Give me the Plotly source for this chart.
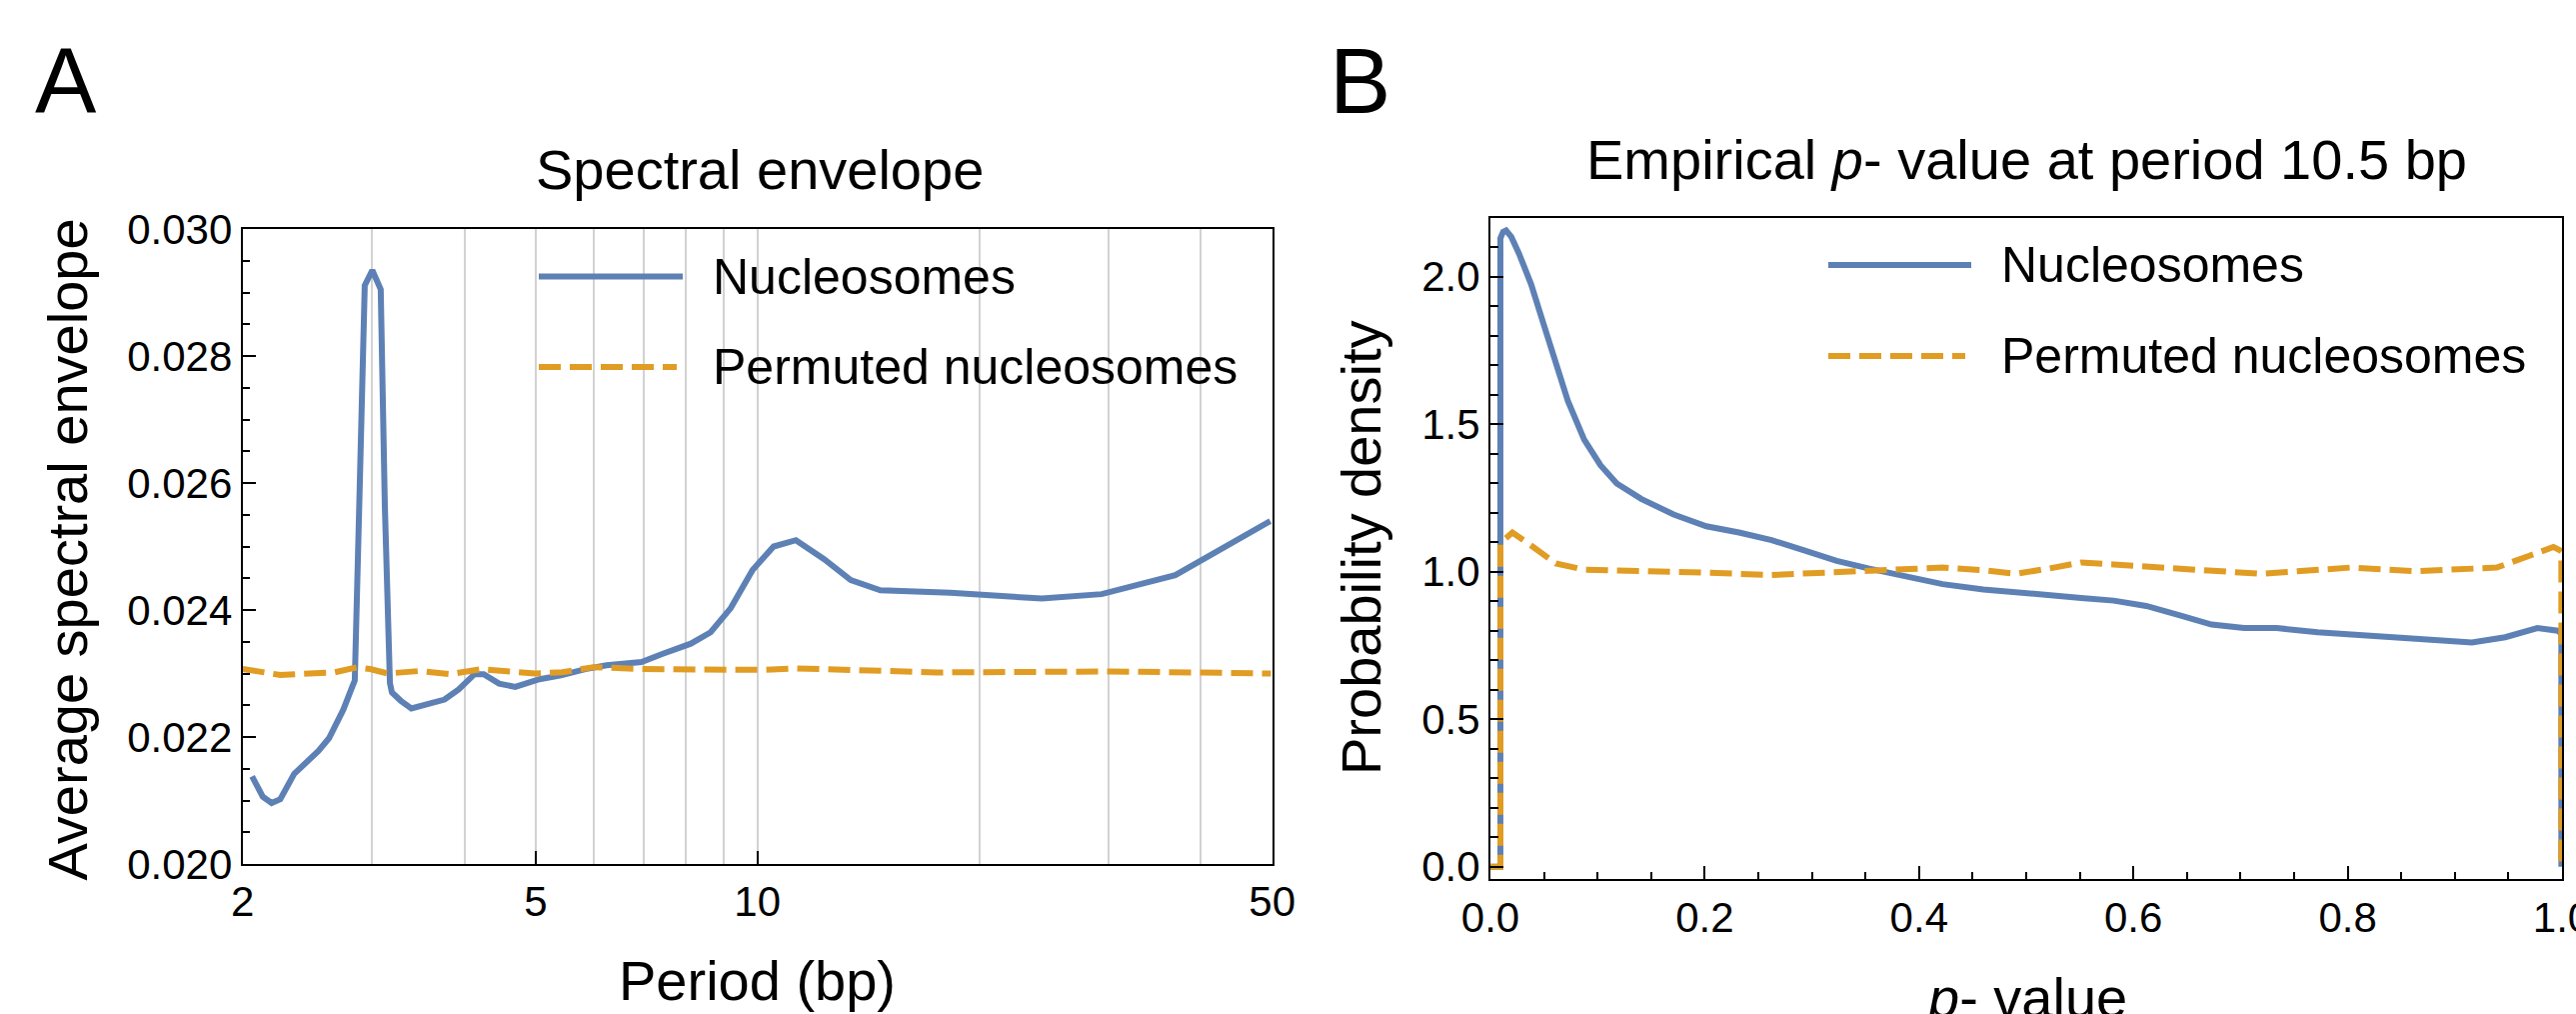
import numpy as np
import plotly.graph_objects as go

W, H = 2577, 1014


def px(x):
    return x / W


def py(y):
    return 1 - y / H


# ---------------- Panel A: spectral envelope ----------------
period_nuc = [2.06, 2.13, 2.19, 2.25, 2.35, 2.45, 2.535, 2.62, 2.74, 2.82, 2.84,
              2.88, 2.93, 3.00, 3.08, 3.12, 3.17, 3.19, 3.28, 3.39, 3.53, 3.76,
              3.93, 4.13, 4.25, 4.46, 4.69, 5.06, 5.41, 5.84, 6.24, 6.96, 7.44,
              8.12, 8.64, 9.20, 9.85, 10.52, 11.28, 12.32, 13.39, 14.69, 18.29,
              20.86, 24.33, 29.33, 36.93, 49.7]
env_nuc = [0.02138, 0.02106, 0.02096, 0.02102, 0.02142, 0.02162, 0.02178, 0.02198,
           0.02243, 0.02280, 0.02289, 0.02564, 0.02911, 0.02935, 0.02905, 0.02564,
           0.02285, 0.02270, 0.02257, 0.02245, 0.02251, 0.02259, 0.02275, 0.02299,
           0.02299, 0.02284, 0.02279, 0.02291, 0.02297, 0.02307, 0.02313, 0.02318,
           0.02331, 0.02347, 0.02365, 0.02403, 0.02463, 0.02500, 0.02510, 0.02480,
           0.02447, 0.02431, 0.02427, 0.02423, 0.02418, 0.02425, 0.02455, 0.02540]

period_perm = [2.0, 2.046, 2.10, 2.25, 2.49, 2.67, 2.86, 2.98, 3.15, 3.48, 3.83,
               4.22, 4.72, 4.99, 5.43, 5.99, 6.97, 8.34, 10.1, 11.27, 14.0, 17.5,
               24.2, 30.1, 49.8]
env_perm = [0.02307, 0.023057, 0.023033, 0.022976, 0.023016, 0.02302, 0.023098,
            0.02307, 0.02300, 0.02304, 0.02299, 0.02307, 0.02302, 0.02300, 0.02302,
            0.02310, 0.02307, 0.023057, 0.023057, 0.02308, 0.023049, 0.023017,
            0.023025, 0.023033, 0.02300]

xticks_a = [2, 5, 10, 50]
xgrid_minor_a = [3, 4, 6, 7, 8, 9, 20, 30, 40]

# ---------------- Panel B: empirical p-value density ----------------
p_nuc = [0.0, 0.0093, 0.0093, 0.0118, 0.0146, 0.0195, 0.0266, 0.038, 0.0494, 0.0608,
         0.0722, 0.0875, 0.1027, 0.1179, 0.1407, 0.171, 0.2015, 0.232, 0.2624, 0.2928,
         0.3232, 0.3536, 0.384, 0.422, 0.46, 0.5057, 0.5513, 0.5817, 0.612, 0.6426,
         0.673, 0.7034, 0.7338, 0.772, 0.81, 0.848, 0.886, 0.916, 0.947, 0.977, 0.996,
         0.9994, 0.9994]
dens_nuc = [0.0, 0.0, 2.13, 2.152, 2.157, 2.135, 2.079, 1.974, 1.842, 1.711,
            1.58, 1.448, 1.361, 1.299, 1.247, 1.194, 1.154, 1.133, 1.107, 1.072,
            1.037, 1.0105, 0.989, 0.958, 0.94, 0.923, 0.911, 0.902, 0.884, 0.853,
            0.821, 0.809, 0.809, 0.795, 0.786, 0.779, 0.765, 0.76, 0.778, 0.809, 0.80,
            0.79, 0.0]

p_perm = [0.0, 0.0093, 0.0093, 0.0205, 0.038, 0.061, 0.0875, 0.1407, 0.2015, 0.2624,
          0.308, 0.369, 0.422, 0.46, 0.4905, 0.521, 0.5513, 0.5817, 0.6198, 0.6578,
          0.7186, 0.7643, 0.8023, 0.863, 0.939, 0.9696, 0.992, 0.9994, 0.9994]
dens_perm = [0.0, 0.0, 1.098, 1.133, 1.089, 1.028, 1.007, 1.0035, 0.9965, 0.989,
             0.9965, 1.0035, 1.014, 1.005, 0.993, 1.0105, 1.0315, 1.0245, 1.014, 1.007,
             0.993, 1.007, 1.014, 1.0017, 1.014, 1.054, 1.084, 1.07, 0.0]

xticks_b = [0.0, 0.2, 0.4, 0.6, 0.8, 1.0]
yticks_b = [0.0, 0.5, 1.0, 1.5, 2.0]

series_names = ["Nucleosomes", "Permuted nucleosomes"]

BLUE = "#5E81B5"
ORANGE = "#E19C24"
GRID = "#d2d2d2"
FONT = "Liberation Sans, Arial, Helvetica, sans-serif"
DASH = "22px,9px"
LW = 6

fig = go.Figure()
fig.add_trace(go.Scatter(x=period_nuc, y=env_nuc, mode="lines", name=series_names[0],
                         line=dict(color=BLUE, width=LW), xaxis="x", yaxis="y",
                         showlegend=False))
fig.add_trace(go.Scatter(x=period_perm, y=env_perm, mode="lines", name=series_names[1],
                         line=dict(color=ORANGE, width=LW, dash=DASH), xaxis="x", yaxis="y",
                         showlegend=False))
fig.add_trace(go.Scatter(x=p_nuc, y=dens_nuc, mode="lines", name=series_names[0],
                         line=dict(color=BLUE, width=LW),
                         xaxis="x2", yaxis="y2", showlegend=False))
fig.add_trace(go.Scatter(x=p_perm, y=dens_perm, mode="lines", name=series_names[1],
                         line=dict(color=ORANGE, width=LW, dash=DASH),
                         xaxis="x2", yaxis="y2", showlegend=False))

tickfont = dict(family=FONT, size=42, color="black")
frame = dict(showline=True, linecolor="black", linewidth=2, mirror=True, zeroline=False,
             ticks="inside", ticklen=13, tickwidth=2, tickcolor="black", tickfont=tickfont,
             automargin=False, ticklabeloverflow="allow")

fig.update_layout(
    width=W, height=H, margin=dict(l=0, r=0, t=0, b=0, autoexpand=False),
    paper_bgcolor="white", plot_bgcolor="white", showlegend=False,
    font=dict(family=FONT, color="black"),
    xaxis=dict(type="log", domain=[px(242.7), px(1272.7)],
               range=[np.log10(2), np.log10(50)], anchor="y",
               tickmode="array", tickvals=xticks_a, ticktext=[str(v) for v in xticks_a],
               showgrid=True, gridcolor=GRID, gridwidth=1.6,
               minor=dict(tickmode="array", tickvals=xgrid_minor_a, ticks="",
                          showgrid=True, gridcolor=GRID, gridwidth=1.6),
               **frame),
    yaxis=dict(domain=[py(864), py(229)], range=[0.020, 0.030], anchor="x",
               tick0=0.020, dtick=0.002, tickformat=".3f", showgrid=False,
               minor=dict(dtick=0.0005, ticks="inside", ticklen=7.5, tickwidth=2,
                          tickcolor="black", showgrid=False),
               **frame),
    xaxis2=dict(domain=[px(1491), px(2563)], range=[0, 1], anchor="y2",
                tickmode="array", tickvals=xticks_b, ticktext=["%.1f" % v for v in xticks_b],
                showgrid=False,
                minor=dict(dtick=0.05, tick0=0, ticks="inside", ticklen=7.5, tickwidth=2,
                           tickcolor="black", showgrid=False),
                **frame),
    yaxis2=dict(domain=[py(879.3), py(217.7)], range=[-0.0426, 2.2], anchor="x2",
                tickmode="array", tickvals=yticks_b, ticktext=["%.1f" % v for v in yticks_b],
                showgrid=False,
                minor=dict(dtick=0.1, tick0=0, ticks="inside", ticklen=7.5, tickwidth=2,
                           tickcolor="black", showgrid=False),
                **frame),
)


def label(text, x, y, size, xanchor="center", angle=0):
    fig.add_annotation(text=text, x=px(x), y=py(y), xref="paper", yref="paper",
                       xanchor=xanchor, yanchor="middle", showarrow=False,
                       textangle=angle, font=dict(family=FONT, size=size, color="black"))


# panel letters
label("A", 33, 81, 92, xanchor="left")
label("B", 1328, 81, 92, xanchor="left")
# titles
label("Spectral envelope", 760, 170, 56)
label("Empirical <i>p</i>- value at period 10.5 bp", 2027, 159, 56)
# axis titles
label("Period (bp)", 757, 980, 56)
label("Average spectral envelope", 66.5, 550, 56, angle=-90)
label("<i>p</i>- value", 2027, 997, 56)
label("Probability density", 1361, 548, 56, angle=-90)

# legends (drawn manually to match long legend keys)
legend_specs = [
    # (x0, x1, y_blue, y_orange, text_x)
    (539, 683, 276.5, 367, 711),
    (1829, 1972, 265, 356, 2000),
]
for x0, x1, yb, yo, tx in legend_specs:
    fig.add_shape(type="line", xref="paper", yref="paper", x0=px(x0), x1=px(x1),
                  y0=py(yb), y1=py(yb), line=dict(color=BLUE, width=LW))
    fig.add_shape(type="line", xref="paper", yref="paper", x0=px(x0), x1=px(x1 - 6),
                  y0=py(yo), y1=py(yo), line=dict(color=ORANGE, width=LW, dash=DASH))
    label(series_names[0], tx, yb, 50, xanchor="left")
    label(series_names[1], tx, yo, 50, xanchor="left")

fig.write_html("out.html", config={"displayModeBar": False})

with open("out.html", "r", encoding="utf-8") as f:
    html = f.read()
html = html.replace("<head>", "<head><style>html,body{margin:0;padding:0;overflow:hidden;}</style>", 1)
with open("out.html", "w", encoding="utf-8") as f:
    f.write(html)
